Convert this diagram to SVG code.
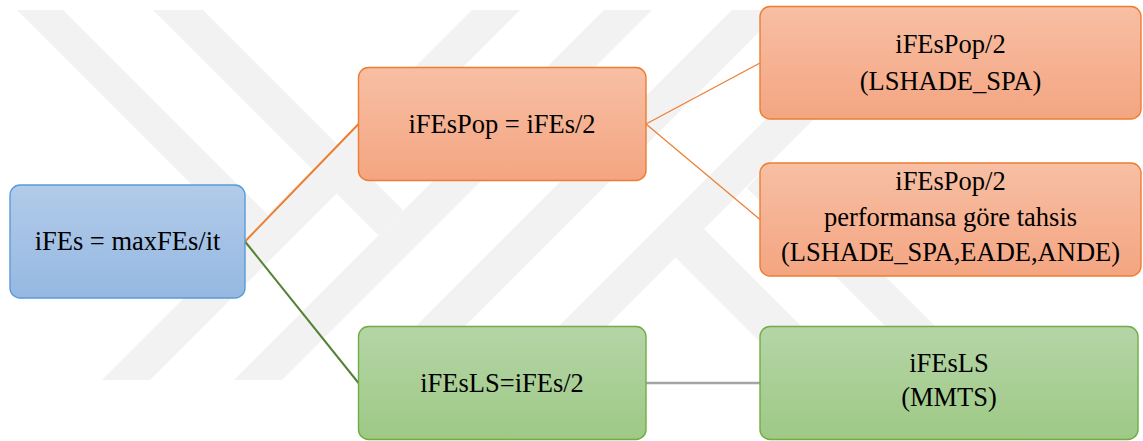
<svg xmlns="http://www.w3.org/2000/svg" width="1143" height="441" viewBox="0 0 1143 441">
  <defs>
    <linearGradient id="gBlue" x1="0" y1="0" x2="0" y2="1">
      <stop offset="0" stop-color="#b2cbe9"/>
      <stop offset="1" stop-color="#95b8e2"/>
    </linearGradient>
    <linearGradient id="gOrange" x1="0" y1="0" x2="0" y2="1">
      <stop offset="0" stop-color="#f7bfa4"/>
      <stop offset="1" stop-color="#f4a581"/>
    </linearGradient>
    <linearGradient id="gGreen" x1="0" y1="0" x2="0" y2="1">
      <stop offset="0" stop-color="#b5d5a7"/>
      <stop offset="1" stop-color="#9ec985"/>
    </linearGradient>
  </defs>
  <style>
    .wm { fill: #f2f2f2; stroke: none; }
    .box { stroke-width: 1.4; }
    .blue { fill: url(#gBlue); stroke: #5b9bd5; }
    .orange { fill: url(#gOrange); stroke: #ed7d31; }
    .green { fill: url(#gGreen); stroke: #70ad47; }
    .lbl { font-family: 'Liberation Serif', Tinos, 'Times New Roman', Times, 'Nimbus Roman', 'Nimbus Roman No9 L', FreeSerif, 'DejaVu Serif', 'Noto Serif', Georgia, serif; font-size: 26.5px; fill: #000; text-anchor: middle; }
    .c { fill: none; }
  </style>
  <rect width="1143" height="441" fill="#ffffff"/>
  <g id="watermark">
    <polygon class="wm" points="17,10 63,10 267.5,214.5 244.5,237.5"/>
    <polygon class="wm" points="153,10 203,10 403.5,210.5 378.5,235.5"/>
    <polygon class="wm" points="472,10 520,10 150,380 102,380"/>
    <polygon class="wm" points="604,10 652,10 282,380 234,380"/>
    <polygon class="wm" points="732,10 781,10 411,380 362,380"/>
    <polygon class="wm" points="875,10 923,10 553,380 505,380"/>
    <polygon class="wm" points="675,257 703,228 855,380 798,380"/>
    <polygon class="wm" points="747,188 771,162 989,380 939,380"/>
  </g>
  <g id="connectors">
    <line class="c" x1="245" y1="241.5" x2="358.5" y2="124" stroke="#ed7d31" stroke-width="2"/>
    <line class="c" x1="245" y1="241.5" x2="358.5" y2="383" stroke="#548235" stroke-width="2"/>
    <line class="c" x1="646" y1="124" x2="760" y2="63" stroke="#ed7d31" stroke-width="1.2"/>
    <line class="c" x1="646" y1="124" x2="760" y2="219.5" stroke="#ed7d31" stroke-width="1.2"/>
    <line class="c" x1="646" y1="383" x2="760" y2="383" stroke="#a5a5a5" stroke-width="2.5"/>
  </g>
  <g id="node-ifes">
    <rect class="box blue" x="10" y="185" width="235" height="113" rx="10"/>
    <text class="lbl" x="127.5" y="250">iFEs = maxFEs/it</text>
  </g>
  <g id="node-ifespop">
    <rect class="box orange" x="358.5" y="67.5" width="287.5" height="113" rx="10"/>
    <text class="lbl" x="502" y="132.5">iFEsPop = iFEs/2</text>
  </g>
  <g id="node-ifesls">
    <rect class="box green" x="358.5" y="326.5" width="287.5" height="113" rx="10"/>
    <text class="lbl" x="502" y="391.5">iFEsLS=iFEs/2</text>
  </g>
  <g id="node-lshade">
    <rect class="box orange" x="760" y="6.5" width="381" height="112.5" rx="10"/>
    <text class="lbl" x="950.5" y="53">iFEsPop/2</text>
    <text class="lbl" x="950.5" y="90">(LSHADE_SPA)</text>
  </g>
  <g id="node-perf">
    <rect class="box orange" x="760" y="163" width="381" height="113" rx="10"/>
    <text class="lbl" x="950.5" y="189.5">iFEsPop/2</text>
    <text class="lbl" x="950.5" y="225.5">performansa göre tahsis</text>
    <text class="lbl" x="950.5" y="261">(LSHADE_SPA,EADE,ANDE)</text>
  </g>
  <g id="node-mmts">
    <rect class="box green" x="760" y="326.5" width="378" height="113" rx="10"/>
    <text class="lbl" x="949" y="372">iFEsLS</text>
    <text class="lbl" x="949" y="406">(MMTS)</text>
  </g>
</svg>
